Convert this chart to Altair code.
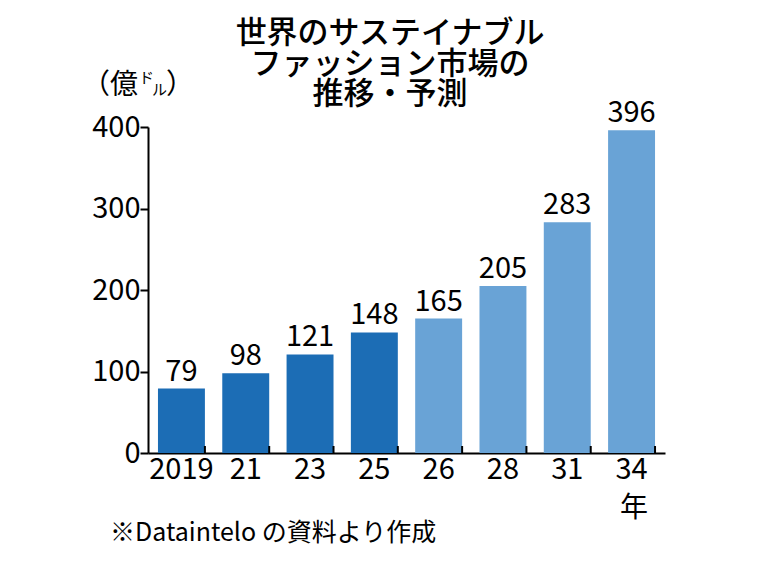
import altair as alt
import pandas as pd

years = ["2019", "21", "23", "25", "26", "28", "31", "34"]
values = [79, 98, 121, 148, 165, 205, 283, 396]
kinds = ["実績", "実績", "実績", "実績", "予測", "予測", "予測", "予測"]
y_ticks = [0, 100, 200, 300, 400]

title_lines = ["世界のサステイナブル", "ファッション市場の", "推移・予測"]
source_note = "※Dataintelo の資料より作成"

FONT = "Noto Sans CJK JP"
W, H = 517, 326

df = pd.DataFrame({"year": years, "value": values, "kind": kinds})

xscale = alt.Scale(domain=years, paddingInner=0.27, paddingOuter=0.155)
yscale = alt.Scale(domain=[0, 400], nice=False)

base = alt.Chart(df)

bars = base.mark_bar().encode(
    x=alt.X("year:N", scale=xscale, sort=years,
            axis=alt.Axis(title=None, labelAngle=0, ticks=False, domainColor="black",
                          domainWidth=2, labelFont=FONT, labelFontSize=29,
                          labelColor="black", labelPadding=2)),
    y=alt.Y("value:Q", scale=yscale,
            axis=alt.Axis(title=None, values=y_ticks, grid=False, domainColor="black",
                          domainWidth=2, tickColor="black", tickWidth=2, tickSize=8,
                          labelFont=FONT, labelFontSize=29, labelColor="black",
                          labelPadding=0)),
    color=alt.Color("kind:N", scale=alt.Scale(domain=["実績", "予測"],
                                              range=["#1c6db5", "#69a3d6"]),
                    legend=None),
)

labels = base.mark_text(font=FONT, fontSize=29, color="black", baseline="alphabetic",
                        dy=-8).encode(
    x=alt.X("year:N", scale=xscale, sort=years),
    y=alt.Y("value:Q", scale=yscale),
    text="value:Q",
)

ticks = base.mark_rule(color="black", strokeWidth=2).encode(
    x=alt.X("year:N", scale=xscale, sort=years, bandPosition=1),
    y=alt.value(H),
    y2=alt.value(H - 7),
)


def txt(s, x, y, size, align="left", baseline="alphabetic", weight="normal"):
    return alt.Chart(pd.DataFrame({"s": [s]})).mark_text(
        font=FONT, fontSize=size, color="black", align=align, baseline=baseline,
        fontWeight=weight).encode(x=alt.value(x), y=alt.value(y), text="s:N")


title = (txt(title_lines[0], 242, -93, 31, align="center", baseline="middle", weight=500)
         + txt(title_lines[1], 242, -62, 31, align="center", baseline="middle", weight=500)
         + txt(title_lines[2], 242, -32, 31, align="center", baseline="middle", weight=500))

unit = (txt("（億", -66, -33, 28) + txt("ド", -9, -44, 15) + txt("ル", 4, -32, 15)
        + txt("）", 18, -33, 28))
nen = txt("年", 486, 382, 28, align="center", baseline="middle")
note = txt(source_note, -38, 406, 25, baseline="middle")

chart = alt.layer(bars, labels, ticks, title, unit, nen, note).properties(
    width=W, height=H,
    background="white",
    autosize=alt.AutoSizeParams(type="none"),
    padding={"left": 148, "top": 127, "right": 95, "bottom": 117},
).configure_view(stroke=None, strokeWidth=0)

chart.save("out.html", embed_options={"renderer": "svg", "actions": False})
